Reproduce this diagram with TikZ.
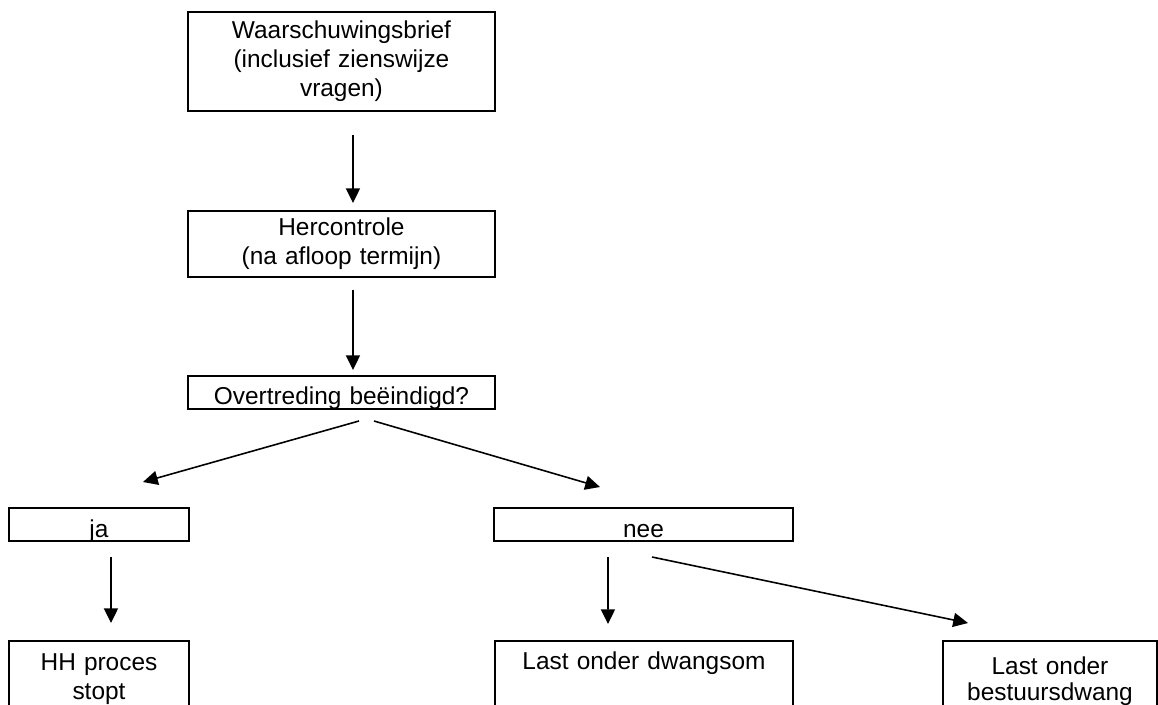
\documentclass[tikz,border=0pt]{standalone}
\usepackage{fontspec}
\setmainfont{Liberation Sans}
\usetikzlibrary{arrows.meta}
\begin{document}
\begin{tikzpicture}[x=0.02cm, y=-0.02cm, >={Triangle[length=8.4pt,width=8pt]},
    box/.style={draw, line width=1.2pt, anchor=north west, inner sep=0pt, outer sep=0pt,
        align=center, font=\fontsize{13.9pt}{16.7pt}\selectfont},
    arr/.style={->, line width=0.9pt}]
    \path[use as bounding box, clip] (0,0) rectangle (1158,704);
    \node[box, text width=6.14cm, text height=0.52cm, text depth=1.46cm] (brief) at (188,12) {Waarschuwingsbrief\\(inclusief zienswijze\\vragen)};
    \node[box, text width=6.14cm, text height=0.48cm, text depth=0.84cm] (herc) at (188,211) {Hercontrole\\(na afloop termijn)};
    \node[box, text width=6.14cm, text height=0.56cm, text depth=0.10cm] (overtr) at (188,376) {Overtreding beëindigd?};
    \node[box, text width=3.60cm, text height=0.58cm, text depth=0.08cm] (ja) at (9,508) {ja};
    \node[box, text width=5.98cm, text height=0.58cm, text depth=0.08cm] (nee) at (494,508) {nee};
    \node[box, text width=3.60cm, text height=0.58cm, text depth=2.40cm] (hh) at (9,641) {HH proces\\stopt};
    \node[box, text width=5.96cm, text height=0.56cm, text depth=2.40cm] (dwangsom) at (495,641) {Last onder dwangsom};
    \node[box, text width=4.28cm, text height=0.66cm, text depth=2.40cm,
        font=\fontsize{13.9pt}{15.3pt}\selectfont] (bestuur) at (943,641) {Last onder\\bestuursdwang};
    \draw[arr] ([shift={(11.5,24)}]brief.south) -- ([shift={(11.5,-8)}]herc.north);
    \draw[arr] ([shift={(11.5,13)}]herc.south) -- ([shift={(11.5,-6)}]overtr.north);
    \draw[arr] ([shift={(17.5,12)}]overtr.south) -- ([shift={(44,-26)}]ja.north);
    \draw[arr] ([shift={(32.5,12)}]overtr.south) -- ([shift={(-43.5,-21)}]nee.north);
    \draw[arr] ([shift={(12,16)}]ja.south) -- ([shift={(12,-18)}]hh.north);
    \draw[arr] ([shift={(-35.5,16)}]nee.south) -- ([shift={(-36,-17)}]dwangsom.north);
    \draw[arr] ([shift={(8.5,16)}]nee.south) -- ([shift={(-82,-18)}]bestuur.north);
\end{tikzpicture}
\end{document}
